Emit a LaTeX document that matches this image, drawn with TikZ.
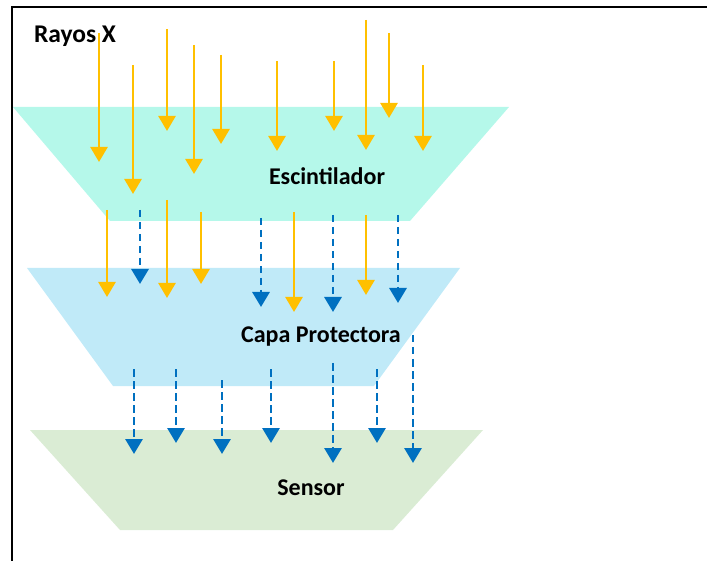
\documentclass[tikz,border=0pt]{standalone}
\usepackage{fontspec}
\setmainfont{Carlito}
\usetikzlibrary{arrows.meta}

\definecolor{scintfill}{RGB}{181,248,234}
\definecolor{coatfill}{RGB}{192,234,248}
\definecolor{sensfill}{RGB}{218,236,212}
\definecolor{xray}{RGB}{255,192,0}
\definecolor{light}{RGB}{0,112,192}

\tikzset{
  layerlabel/.style={anchor=base, inner sep=0pt, font=\fontsize{24}{26}\selectfont\bfseries},
  xrayarrow/.style={draw=xray, line width=2.6pt,
    -{Triangle[width=17pt,length=15pt]}},
  lightarrow/.style={draw=light, line width=2.9pt, dash pattern=on 7.5pt off 4.5pt,
    -{Triangle[width=17pt,length=15pt]}},
  frameline/.style={line width=2pt, black}
}

\begin{document}
\begin{tikzpicture}[x=1pt, y=-1pt]
  \useasboundingbox (0,0) rectangle (707,561);

  % frame (top and left edges)
  \coordinate (fTL) at (12,7.5);
  \coordinate (fTR) at (707,7.5);
  \coordinate (fBL) at (12,561);
  \draw[frameline] (fTR) -- (fTL) -- (fBL);

  % the three layers
  \fill[scintfill] (13,107) -- (509,107) -- (410,221) -- (110,221) -- cycle;
  \fill[coatfill]  (27,268) -- (460,268) -- (374,386) -- (113,386) -- cycle;
  \fill[sensfill]  (30,430) -- (483,430) -- (393,530) -- (120,530) -- cycle;

  % incoming X-rays
  \foreach \x/\a/\b [count=\i] in {99/33/162, 133/65/194, 167/29/131, 194/45/174,
      221/55/144, 277/61/151, 334/61/131, 366/20/150, 389/33/118, 423/65/151} {
    \coordinate (xs\i) at (\x,\a);
    \coordinate (xe\i) at (\x,\b);
    \draw[xrayarrow] (xs\i) -- (xe\i);
  }

  % X-rays passing the scintillator
  \foreach \x/\a/\b [count=\i] in {107/210/297, 167/200/298, 201/212/284,
      294/212/312, 366/215/295} {
    \coordinate (ts\i) at (\x,\a);
    \coordinate (te\i) at (\x,\b);
    \draw[xrayarrow] (ts\i) -- (te\i);
  }

  % light emitted by the scintillator
  \foreach \x/\a/\b [count=\i] in {140/210/284, 261/218/307, 333/215/312, 398/215/303} {
    \coordinate (ls\i) at (\x,\a);
    \coordinate (le\i) at (\x,\b);
    \draw[lightarrow] (ls\i) -- (le\i);
  }

  % light reaching the sensor
  \foreach \x/\a/\b [count=\i] in {134/369/454, 176/369/443, 222/380/454, 271/369/443,
      333/363/463, 377/369/443, 413/335/463} {
    \coordinate (ss\i) at (\x,\a);
    \coordinate (se\i) at (\x,\b);
    \draw[lightarrow] (ss\i) -- (se\i);
  }

  % labels
  \node[layerlabel] (rx)    at (75,43)   {\fontsize{25.5}{27}\selectfont Rayos X};
  \node[layerlabel] (scint) at (327,185) {Escintilador};
  \node[layerlabel] (coat)  at (321,343) {Capa Protectora};
  \node[layerlabel] (sens)  at (311,495) {Sensor};
\end{tikzpicture}
\end{document}
